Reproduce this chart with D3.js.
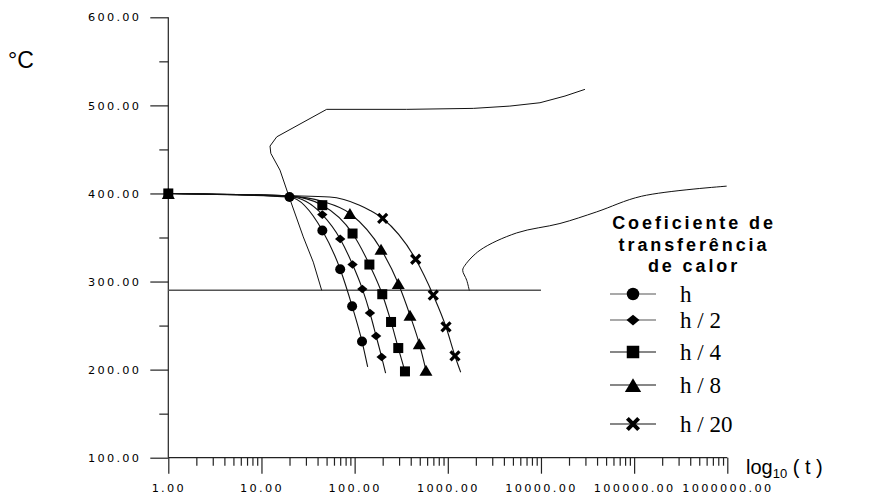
<!DOCTYPE html>
<html>
<head>
<meta charset="utf-8">
<script src="https://cdn.jsdelivr.net/npm/d3@7"></script>
<style>
  body { margin: 0; background: #fff; }
  svg { display: block; }
  .tick-label { font-family: "DejaVu Sans", sans-serif; font-size: 11.3px; letter-spacing: 2.3px; fill: #000; }
</style>
</head>
<body>
<svg width="884" height="495"></svg>
<script>
// cooling curves, one per heat transfer coefficient (time in s, temp in C)
// mark = 1 where the original shows a symbol
const seriesNames = ['h', 'h / 2', 'h / 4', 'h / 8', 'h / 20'];
const seriesShapes = ['circle', 'diamond', 'square', 'triangle', 'cross'];

const hTime = [1, 20, 45, 70, 94, 120, 138];
const hTemp = [400, 396, 358, 314, 272, 232, 203];
const hMark = [0, 1, 1, 1, 1, 1, 0];

const h2Time = [1, 20, 45, 70, 95, 121, 146, 170, 195, 215];
const h2Temp = [400, 396.5, 376, 348.4, 319.3, 291.6, 264.3, 238.2, 214.3, 196];
const h2Mark = [0, 0, 1, 1, 1, 1, 1, 1, 1, 0];

const h4Time = [1, 20, 45, 95, 144, 198, 246, 294, 347];
const h4Temp = [400, 397, 386.7, 354.5, 319.3, 285.6, 254.1, 224.5, 198];
const h4Mark = [1, 0, 1, 1, 1, 1, 1, 1, 1];

const h8Time = [1, 20, 45, 89, 192, 294, 393, 494, 583];
const h8Temp = [400, 397, 391, 377.3, 336.7, 297.7, 261.7, 229.5, 199.2];
const h8Mark = [1, 0, 0, 1, 1, 1, 1, 1, 1];

const h20Time = [1, 20, 54, 113, 145, 200, 452, 698, 957, 1194, 1375];
const h20Temp = [400, 397.5, 396, 386.7, 381, 371.6, 325.3, 284.5, 248.4, 215.5, 197];
const h20Mark = [0, 0, 0, 0, 0, 1, 1, 1, 1, 1, 0];

// transformation curves of the diagram
const startTime = [44.3, 36, 28.1, 19.9, 15.8, 12.6, 12.35, 14.6, 50.1, 362, 1878, 4634, 9760, 18110, 29650];
const startTemp = [290, 322, 350.7, 395.5, 426.5, 445.5, 453.8, 464.3, 495.5, 495.5, 496.6, 499.2, 503, 510.6, 518.2];

const lowerTime = [1702, 1596, 1445, 1530, 2218, 5486, 15990, 39630, 120600, 984000];
const lowerTemp = [289.8, 301.5, 312.8, 318.5, 335.6, 355.2, 365.9, 379.1, 396.9, 408.3];

const msTime = [1, 10000];
const msTemp = [290, 290];

const yTicks = [100, 200, 300, 400, 500, 600];
const yMinorTicks = [150, 250, 350, 450, 550];
const xTicks = [1, 10, 100, 1000, 10000, 100000, 1000000];

const legendTitle = ['Coeficiente de', 'transferência', 'de calor'];

const svg = d3.select('svg');

const x = d3.scaleLog().domain([1, 1000000]).range([168.3, 727.3]);
const y = d3.scaleLinear().domain([100, 600]).range([457.7, 17.3]);

const series = [
    [hTime, hTemp, hMark],
    [h2Time, h2Temp, h2Mark],
    [h4Time, h4Temp, h4Mark],
    [h8Time, h8Temp, h8Mark],
    [h20Time, h20Temp, h20Mark]
].map(([t, v, m], i) => ({
    name: seriesNames[i],
    shape: seriesShapes[i],
    points: t.map((d, j) => ({ t: d, v: v[j], mark: m[j] }))
}));

const zip = (t, v) => t.map((d, i) => ({ t: d, v: v[i] }));

// axes
const yAxisG = svg.append('g').attr('transform', `translate(${x(1)},0)`);
yAxisG.call(d3.axisLeft(y).tickValues(yTicks).tickSize(18).tickPadding(9).tickFormat(d3.format('.2f')));
svg.append('g').attr('transform', `translate(${x(1)},0)`)
    .call(d3.axisLeft(y).tickValues(yMinorTicks).tickSize(9).tickFormat(''))
    .call(g => g.select('.domain').remove());

const xAxisG = svg.append('g').attr('transform', `translate(0,${y(100)})`);
xAxisG.call(d3.axisBottom(x).tickValues(xTicks).tickSize(16).tickPadding(10).tickFormat(d3.format('.2f')));
const xMinor = [];
xTicks.slice(0, -1).forEach(d => { for (let k = 2; k < 10; k++) xMinor.push(d * k); });
svg.append('g').attr('transform', `translate(0,${y(100)})`)
    .call(d3.axisBottom(x).tickValues(xMinor).tickSize(8).tickFormat(''))
    .call(g => g.select('.domain').remove());

svg.selectAll('.domain').attr('stroke', '#222').attr('stroke-width', 1.2);
svg.selectAll('.tick line').attr('stroke', '#222').attr('stroke-width', 1.2);
svg.selectAll('.tick text').attr('class', 'tick-label').attr('font-family', null).attr('font-size', null);
yAxisG.select('.domain').attr('d', `M0,${y(600)}V${y(100)}`);
xAxisG.select('.domain').attr('d', `M${x(1)},0H${x(1000000)}`);

svg.append('text')
    .attr('x', 8).attr('y', 68)
    .attr('font-family', 'Liberation Sans, Arial, sans-serif')
    .attr('font-size', 23)
    .text('°C');

const xl = svg.append('text')
    .attr('x', 746).attr('y', 474)
    .attr('font-family', 'Liberation Sans, Arial, sans-serif')
    .attr('font-size', 20);
xl.append('tspan').text('log');
xl.append('tspan').attr('font-size', 13).attr('dy', 4).text('10');
xl.append('tspan').attr('dy', -4).text(' ( t )');

// diagram lines
const line = d3.line().x(d => x(d.t)).y(d => y(d.v));
const smooth = d3.line().x(d => x(d.t)).y(d => y(d.v)).curve(d3.curveMonotoneX);

svg.append('path')
    .attr('d', line(zip(msTime, msTemp)))
    .attr('fill', 'none').attr('stroke', '#555').attr('stroke-width', 1.5);

svg.append('path')
    .attr('d', line(zip(startTime, startTemp)))
    .attr('fill', 'none').attr('stroke', '#111').attr('stroke-width', 1);

svg.append('path')
    .attr('d', d3.line().x(d => x(d.t)).y(d => y(d.v)).curve(d3.curveCatmullRom)(zip(lowerTime, lowerTemp)))
    .attr('fill', 'none').attr('stroke', '#111').attr('stroke-width', 1);

series.forEach(s => {
    svg.append('path')
        .attr('d', smooth(s.points))
        .attr('fill', 'none').attr('stroke', '#111').attr('stroke-width', 1.1);
});

// symbol drawing
function drawMarker(g, shape, cx, cy, k) {
    if (shape === 'circle') {
        g.append('circle').attr('cx', cx).attr('cy', cy).attr('r', 5 * k).attr('fill', '#000');
    } else if (shape === 'diamond') {
        const w = 5.2 * k, h = 4.3 * k;
        g.append('path').attr('d', `M${cx - w},${cy}L${cx},${cy - h}L${cx + w},${cy}L${cx},${cy + h}Z`).attr('fill', '#000');
    } else if (shape === 'square') {
        const a = 5 * k;
        g.append('rect').attr('x', cx - a).attr('y', cy - a).attr('width', 2 * a).attr('height', 2 * a).attr('fill', '#000');
    } else if (shape === 'triangle') {
        const w = 6.5 * k, h = 5.5 * k;
        g.append('path').attr('d', `M${cx - w},${cy + h}L${cx},${cy - h}L${cx + w},${cy + h}Z`).attr('fill', '#000');
    } else {
        const a = 4.5 * k;
        g.append('path').attr('d', `M${cx - a},${cy - a}L${cx + a},${cy + a}M${cx - a},${cy + a}L${cx + a},${cy - a}`)
            .attr('stroke', '#000').attr('stroke-width', 3.2 * k).attr('fill', 'none');
    }
}

const markG = svg.append('g');
series.forEach(s => {
    s.points.filter(p => p.mark).forEach(p => drawMarker(markG, s.shape, x(p.t), y(p.v), 1));
});

// legend
const legendRowY = [294, 320, 352, 385, 424];
const lg = svg.append('g');
legendTitle.forEach((t, i) => {
    lg.append('text')
        .attr('x', 694).attr('y', 229 + i * 21.5)
        .attr('text-anchor', 'middle')
        .attr('font-family', 'Liberation Sans, Arial, sans-serif')
        .attr('font-weight', 'bold')
        .attr('font-size', 18)
        .attr('letter-spacing', 2.9)
        .text(t);
});
series.forEach((s, i) => {
    const ry = legendRowY[i];
    lg.append('line').attr('x1', 610).attr('x2', 656).attr('y1', ry).attr('y2', ry)
        .attr('stroke', i < 2 ? '#555' : '#111').attr('stroke-width', 1.2);
    drawMarker(lg, s.shape, 633, ry, 1.25);
    lg.append('text')
        .attr('x', 680).attr('y', ry + 8)
        .attr('font-family', 'Liberation Serif, Times New Roman, serif')
        .attr('font-size', 23)
        .text(s.name);
});
</script>
</body>
</html>
